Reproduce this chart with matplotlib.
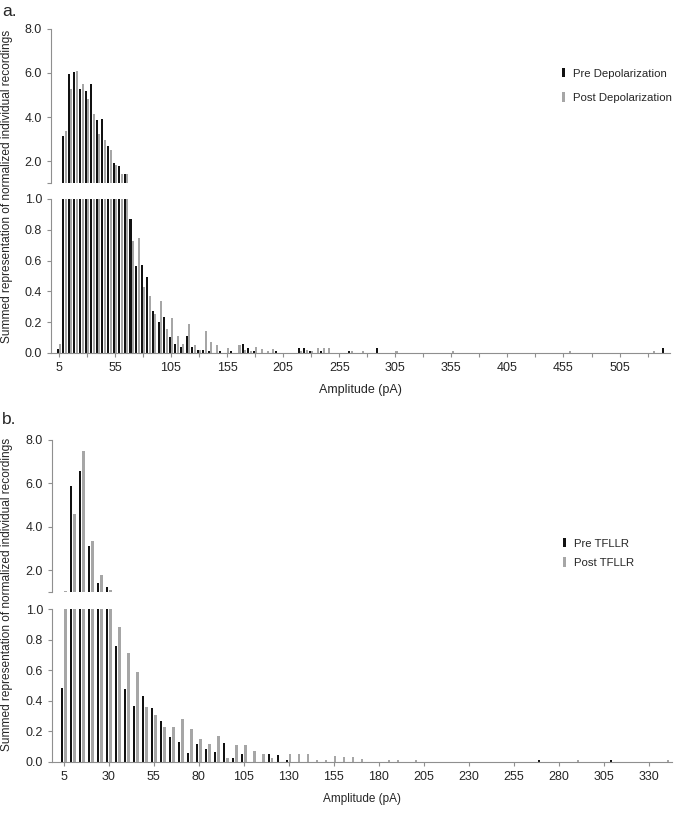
import matplotlib.pyplot as plt

plt.rcParams['font.family'] = ['Liberation Sans', 'DejaVu Sans']

# ---- panel a: depolarization (bin centre in pA -> summed value) ----
a_pre_amp = [5, 10, 15, 20, 25, 30, 35, 40, 45, 50, 55, 60, 65, 70, 75, 80, 85, 90,
             95, 100, 105, 110, 115, 120, 125, 130, 135, 140, 150, 160, 170, 175,
             180, 200, 220, 225, 230, 240, 265, 290, 545]
a_pre_val = [0.026, 3.15, 5.95, 6.03, 5.29, 5.20, 5.51, 3.86, 3.91, 2.68, 1.92, 1.79,
             1.39, 0.868, 0.565, 0.571, 0.496, 0.272, 0.201, 0.232, 0.104, 0.06,
             0.037, 0.11, 0.038, 0.02, 0.02, 0.013, 0.013, 0.013, 0.058, 0.03,
             0.013, 0.013, 0.03, 0.03, 0.015, 0.013, 0.01, 0.03, 0.03]
a_post_amp = [5, 10, 15, 20, 25, 30, 35, 40, 45, 50, 55, 60, 65, 70, 75, 80, 85, 90,
              95, 100, 105, 110, 115, 120, 125, 130, 135, 140, 145, 155, 165, 170,
              175, 180, 185, 190, 195, 220, 225, 230, 235, 240, 245, 265, 275, 305,
              355, 460, 535]
a_post_val = [0.058, 3.36, 5.26, 6.09, 5.49, 4.82, 4.12, 3.24, 2.95, 2.48, 1.82, 1.41,
              1.39, 0.73, 0.749, 0.43, 0.37, 0.255, 0.335, 0.154, 0.227, 0.11, 0.058,
              0.188, 0.05, 0.018, 0.143, 0.074, 0.055, 0.03, 0.05, 0.02, 0.015, 0.04,
              0.025, 0.01, 0.025, 0.015, 0.02, 0.015, 0.03, 0.03, 0.03, 0.01, 0.01,
              0.01, 0.01, 0.01, 0.01]

# ---- panel b: TFLLR ----
b_pre_amp = [5, 10, 15, 20, 25, 30, 35, 40, 45, 50, 55, 60, 65, 70, 75, 80, 85, 90,
             95, 100, 105, 120, 125, 130, 270, 310]
b_pre_val = [0.483, 5.89, 6.57, 3.11, 1.41, 1.23, 0.757, 0.476, 0.367, 0.432, 0.354,
             0.271, 0.163, 0.13, 0.059, 0.117, 0.085, 0.065, 0.124, 0.028, 0.05, 0.05,
             0.045, 0.013, 0.01, 0.01]
b_post_amp = [5, 10, 15, 20, 25, 30, 35, 40, 45, 50, 55, 60, 65, 70, 75, 80, 85, 90,
              95, 100, 105, 110, 115, 120, 130, 135, 140, 145, 150, 155, 160, 165,
              170, 185, 190, 200, 290, 340]
b_post_val = [1.03, 4.58, 7.51, 3.35, 1.77, 1.10, 0.885, 0.711, 0.591, 0.361, 0.309,
              0.23, 0.232, 0.28, 0.215, 0.15, 0.117, 0.171, 0.028, 0.11, 0.11, 0.07,
              0.05, 0.028, 0.05, 0.05, 0.05, 0.01, 0.01, 0.04, 0.03, 0.03, 0.02, 0.01,
              0.01, 0.01, 0.01, 0.01]

a_xticks = list(range(5, 506, 50))
a_xminor = list(range(30, 531, 50))
b_xticks = list(range(5, 331, 25))
top_yticks = [1.0, 2.0, 4.0, 6.0, 8.0]
bot_yticks = [0.0, 0.2, 0.4, 0.6, 0.8, 1.0]

W, H = 676, 814
PRE_C = '#111111'
POST_C = '#a6a6a6'
SPINE_C = '#8f8f8f'
TXT_C = '#262626'


def rect(x0, y0, x1, y1):
    # pixel box (top-left origin) -> figure fraction
    return [x0 / W, 1 - y1 / H, (x1 - x0) / W, (y1 - y0) / H]


def style(ax, fs):
    for s in ['top', 'right']:
        ax.spines[s].set_visible(False)
    for s in ['left', 'bottom']:
        ax.spines[s].set_color(SPINE_C)
        ax.spines[s].set_linewidth(0.8)
    ax.tick_params(which='both', direction='out', length=3, width=0.8,
                   color=SPINE_C, labelcolor=TXT_C, labelsize=fs)


def panel(fig, top_box, bot_box, pre_amp, pre_val, post_amp, post_val,
          width, off, xlim, xticks, xminor, labels, leg_xy, leg_sp, fs, xl_fs):
    ax_t = fig.add_axes(rect(*top_box))
    ax_b = fig.add_axes(rect(*bot_box))
    for ax in (ax_t, ax_b):
        style(ax, fs)
        h1 = ax.bar([a - off for a in pre_amp], pre_val, width=width,
                    color=PRE_C, linewidth=0)
        h2 = ax.bar([a + off for a in post_amp], post_val, width=width,
                    color=POST_C, linewidth=0)
        ax.set_xlim(*xlim)

    ax_t.set_ylim(1.0, 8.0)
    ax_t.spines['bottom'].set_visible(False)
    ax_t.xaxis.set_visible(False)
    ax_t.set_yticks(top_yticks)
    ax_t.set_yticklabels([''] + ['%.1f' % v for v in top_yticks[1:]])

    ax_b.set_ylim(0, 1.0)
    ax_b.set_yticks(bot_yticks)
    ax_b.set_yticklabels(['%.1f' % v for v in bot_yticks])
    ax_b.set_xticks(xticks)
    ax_b.set_xticklabels([str(t) for t in xticks])
    if xminor:
        ax_b.set_xticks(xminor, minor=True)
    ax_b.set_xlabel('Amplitude (pA)', fontsize=xl_fs, color=TXT_C, labelpad=7)

    ax_t.legend([h1, h2], labels, loc='upper left', frameon=False,
                bbox_to_anchor=(leg_xy[0] / W, 1 - leg_xy[1] / H),
                bbox_transform=fig.transFigure, fontsize=8.2,
                handlelength=0.25, handleheight=0.9, handletextpad=0.7,
                labelspacing=leg_sp, borderpad=0, borderaxespad=0,
                labelcolor=TXT_C)
    return ax_t, ax_b


fig = plt.figure(figsize=(W / 100, H / 100), dpi=100)

panel(fig, (51, 29, 670, 183), (51, 199, 670, 353),
      a_pre_amp, a_pre_val, a_post_amp, a_post_val,
      width=1.8, off=1.1, xlim=(-2, 550), xticks=a_xticks, xminor=a_xminor,
      labels=['Pre Depolarization', 'Post Depolarization'],
      leg_xy=(562, 68), leg_sp=1.2, fs=9, xl_fs=9)

panel(fig, (52, 440, 672, 592), (52, 609, 672, 762),
      b_pre_amp, b_pre_val, b_post_amp, b_post_val,
      width=1.35, off=0.9, xlim=(-1.5, 343), xticks=b_xticks, xminor=None,
      labels=['Pre TFLLR', 'Post TFLLR'],
      leg_xy=(563, 538), leg_sp=0.75, fs=9, xl_fs=8.5)

ylab = 'Summed representation of normalized individual recordings'
fig.text(7 / W, 1 - 186 / H, ylab, rotation=90, ha='center', va='center',
         fontsize=8.6, color=TXT_C)
fig.text(7 / W, 1 - 594 / H, ylab, rotation=90, ha='center', va='center',
         fontsize=8.6, color=TXT_C)
fig.text(2 / W, 1 - 16 / H, 'a.', fontsize=12.5, color=TXT_C, va='baseline')
fig.text(2 / W, 1 - 424 / H, 'b.', fontsize=12.5, color=TXT_C, va='baseline')

fig.savefig('out.png', dpi=100)
